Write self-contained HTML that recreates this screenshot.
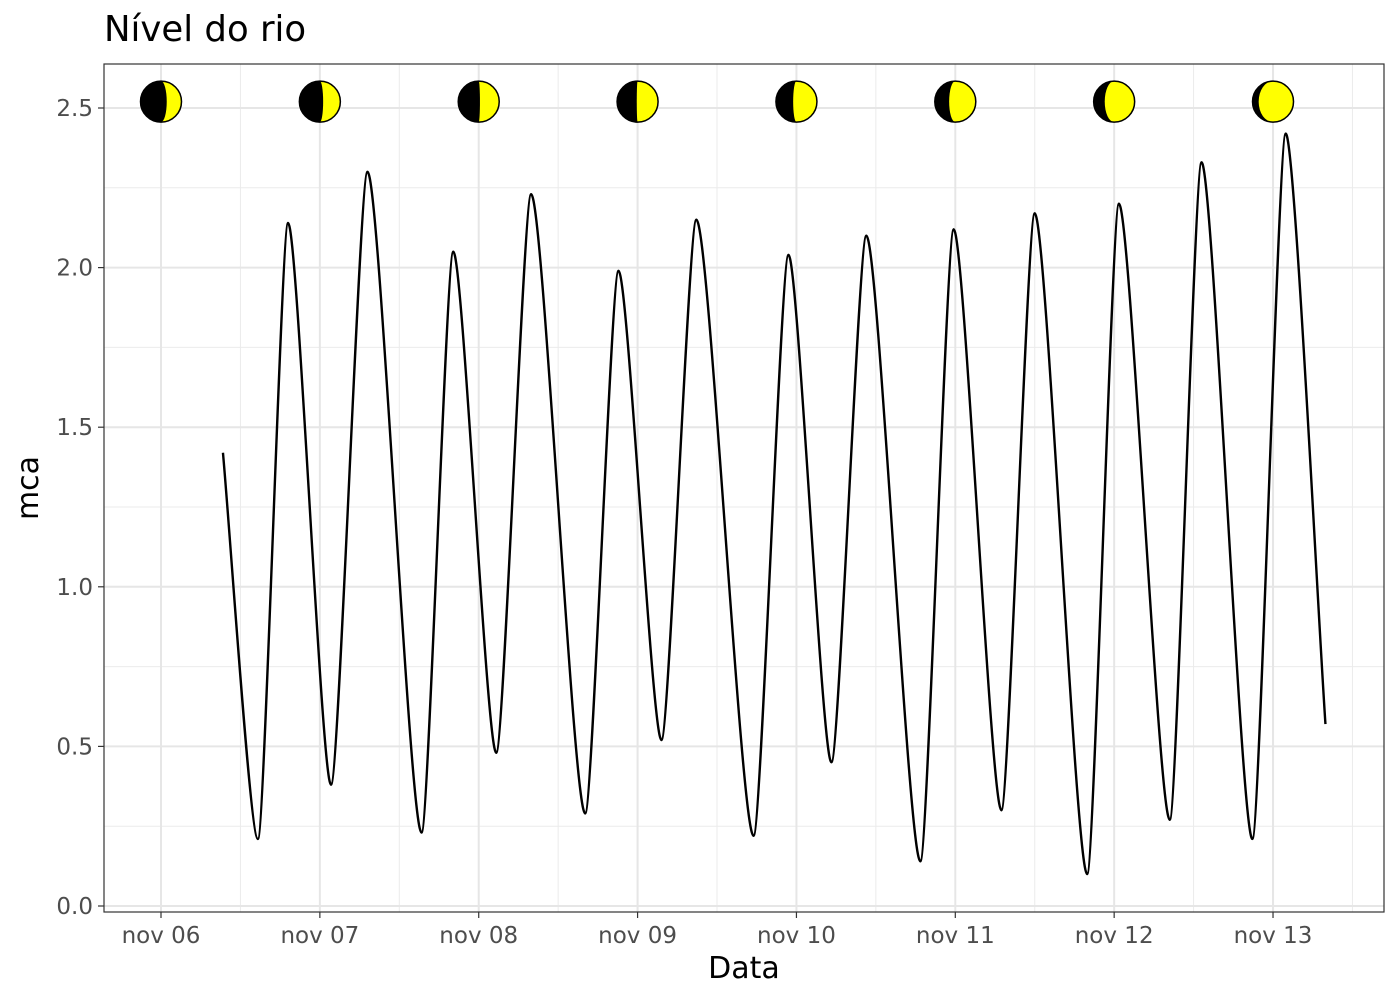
<!DOCTYPE html>
<html><head><meta charset="utf-8"><style>
body{margin:0;background:#fff}
svg{display:block;font-family:"DejaVu Sans","Liberation Sans",sans-serif}
</style></head><body>
<svg id="chart" width="1400" height="1000" viewBox="0 0 1400 1000">
<text x="104" y="41" font-size="35.5" fill="#000">Nível do rio</text>
<rect x="104" y="64" width="1280" height="848" fill="#fff"/>
<g id="grid"></g>
<g id="series"></g>
<g id="moons"></g>
<rect x="104" y="64" width="1280" height="848" fill="none" stroke="#333" stroke-width="1.2"/>
<g id="axes"></g>
<text x="744" y="978" font-size="30" text-anchor="middle">Data</text>
<text transform="translate(38,488) rotate(-90)" font-size="30" text-anchor="middle">mca</text>
</svg>
<script>
// data: extrema of river level (day offset from nov 06, value in mca)
const extremaDays = [0.39,0.61,0.80,1.07,1.30,1.64,1.84,2.11,2.33,2.67,2.88,3.15,3.37,3.73,3.95,4.22,4.44,4.78,4.99,5.29,5.50,5.83,6.03,6.35,6.55,6.87,7.08,7.33];
const extremaValues = [1.42,0.21,2.14,0.38,2.30,0.23,2.05,0.48,2.23,0.29,1.99,0.52,2.15,0.22,2.04,0.45,2.10,0.14,2.12,0.30,2.17,0.10,2.20,0.27,2.33,0.21,2.42,0.57];
const xTickLabels = ["nov 06","nov 07","nov 08","nov 09","nov 10","nov 11","nov 12","nov 13"];
const yTickValues = [0.0,0.5,1.0,1.5,2.0,2.5];
const yTickLabels = ["0.0","0.5","1.0","1.5","2.0","2.5"];
const moonDays = [0,1,2,3,4,5,6,7];
const moonIllum = [0.36,0.42,0.47,0.52,0.58,0.65,0.73,0.85];

const NS="http://www.w3.org/2000/svg";
const X0=161, PXD=158.86, Y0=906, PXU=319.2;
const xs=d=>X0+d*PXD, ys=v=>Y0-v*PXU;
function mk(tag,attrs,parent){const e=document.createElementNS(NS,tag);for(const k in attrs)e.setAttribute(k,attrs[k]);parent.appendChild(e);return e;}
const grid=document.getElementById('grid'),axes=document.getElementById('axes');
for(let i=-0.5;i<=7.5;i+=1){const x=xs(i);if(x<104||x>1384)continue;
 const l=mk('line',{x1:x,x2:x,y1:64,y2:912,stroke:'#ebebeb','stroke-width':1},grid);
 
 }
for(let v=0.25;v<2.7;v+=0.5){const y=ys(v);
 const l=mk('line',{x1:104,x2:1384,y1:y,y2:y,stroke:'#ebebeb','stroke-width':1},grid);
 
 }
xTickLabels.forEach((t,i)=>{const x=xs(i);
 const l=mk('line',{x1:x,x2:x,y1:64,y2:912,stroke:'#e6e6e6','stroke-width':2},grid);
 
 
 const tk=mk('line',{x1:x,x2:x,y1:912,y2:918,stroke:'#333','stroke-width':1.2},axes);
 
 
 const tx=mk('text',{x:x,y:943,'font-size':23,fill:'#4d4d4d','text-anchor':'middle'},axes);
 tx.textContent=t;
 
 });
yTickValues.forEach((v,i)=>{const y=ys(v);
 const l=mk('line',{x1:104,x2:1384,y1:y,y2:y,stroke:'#e6e6e6','stroke-width':2},grid);
 
 
 const tk=mk('line',{x1:98,x2:104,y1:y,y2:y,stroke:'#333','stroke-width':1.2},axes);
 
 
 const tx=mk('text',{x:93,y:y+8,'font-size':23,fill:'#4d4d4d','text-anchor':'end'},axes);
 tx.textContent=yTickLabels[i];
 
 });
let d='M'+xs(extremaDays[0])+','+ys(extremaValues[0]);
for(let i=1;i<extremaDays.length;i++){
 const x0=xs(extremaDays[i-1]),y0=ys(extremaValues[i-1]),x1=xs(extremaDays[i]),y1=ys(extremaValues[i]);
 const first=i===1,last=i===extremaDays.length-1;
 const c=0.22;
 d+=` C${x0+(x1-x0)*c},${first?y0+(y1-y0)*c:y0} ${x1-(x1-x0)*c},${last?y1-(y1-y0)*c:y1} ${x1},${y1}`;
}
const p=mk('path',{d:d,fill:'none',stroke:'#000','stroke-width':2.4,'stroke-linejoin':'round'},document.getElementById('series'));


const mg=document.getElementById('moons');
moonDays.forEach((dd,i)=>{const cx=xs(dd),cy=ys(2.52),r=20.5,f=moonIllum[i];
 const g=mk('g',{},mg);
 
 
 mk('circle',{cx:cx,cy:cy,r:r,fill:'#ffff00'},g);
 mk('path',{d:`M${cx},${cy-r} A${r},${r} 0 0 0 ${cx},${cy+r} Z`,fill:'#000'},g);
 const rx=r*Math.abs(1-2*f);
 mk('ellipse',{cx:cx,cy:cy,rx:rx,ry:r,fill:f<0.5?'#000':'#ffff00'},g);
 mk('circle',{cx:cx,cy:cy,r:r,fill:'none',stroke:'#000','stroke-width':1.5},g);
});
</script>
</body></html>
